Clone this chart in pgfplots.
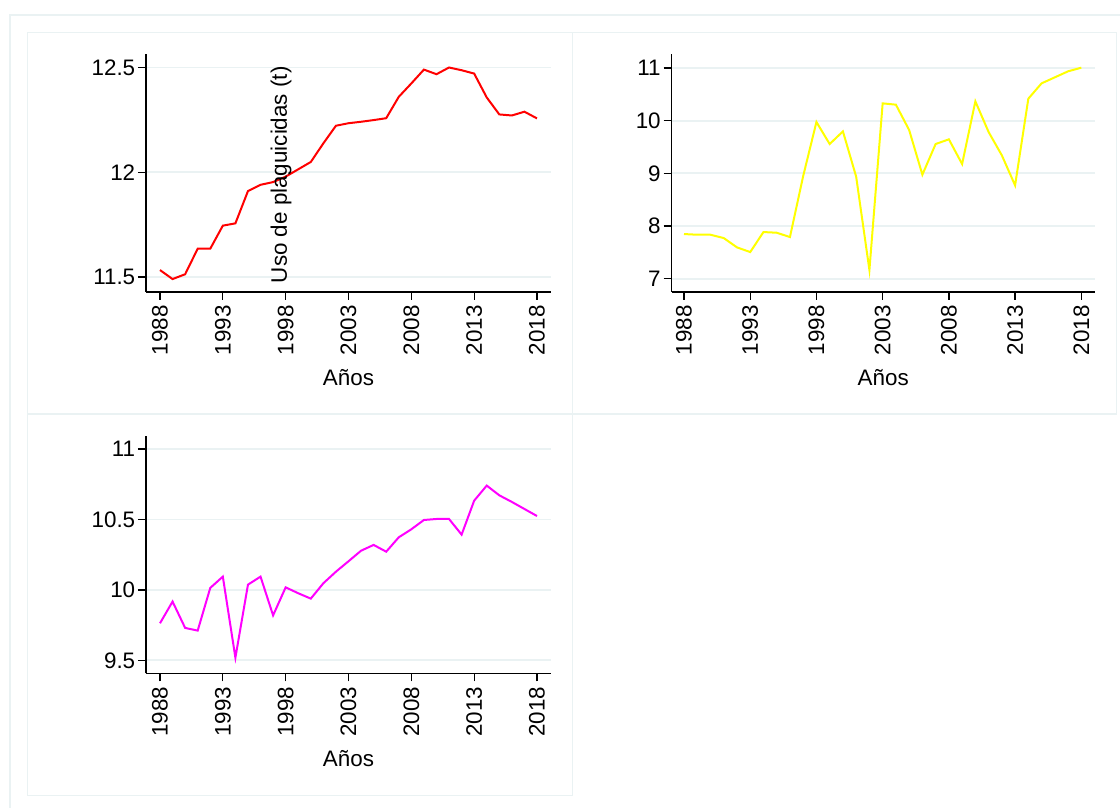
\documentclass[border=0pt]{standalone}
\usepackage{fontspec}
\setmainfont{Liberation Sans}
\usepackage{pgfplots}
\pgfplotsset{compat=1.18}
\usepackage{pgfplotstable}

\definecolor{framec}{HTML}{EAF2F3}
\definecolor{gridc}{HTML}{EAF2F3}
\definecolor{lred}{RGB}{255,0,0}
\definecolor{lyellow}{RGB}{255,255,0}
\definecolor{lmagenta}{RGB}{255,0,255}

% Pesticide use series (log scale), one table per panel
\pgfplotstableread{
year val
1988 11.533
1989 11.490
1990 11.513
1991 11.635
1992 11.635
1993 11.745
1994 11.756
1995 11.910
1996 11.940
1997 11.953
1998 11.979
1999 12.014
2000 12.049
2001 12.138
2002 12.222
2003 12.234
2004 12.241
2005 12.249
2006 12.258
2007 12.360
2008 12.424
2009 12.490
2010 12.468
2011 12.500
2012 12.487
2013 12.471
2014 12.357
2015 12.276
2016 12.271
2017 12.289
2018 12.257
}\seriesA

\pgfplotstableread{
year val
1988 7.848
1989 7.835
1990 7.835
1991 7.772
1992 7.595
1993 7.506
1994 7.886
1995 7.873
1996 7.791
1997 8.95
1998 9.975
1999 9.557
2000 9.797
2001 8.937
2002 7.165
2003 10.329
2004 10.304
2005 9.823
2006 8.975
2007 9.557
2008 9.646
2009 9.177
2010 10.367
2011 9.785
2012 9.342
2013 8.772
2014 10.418
2015 10.709
2016 10.823
2017 10.937
2018 11.006
}\seriesB

\pgfplotstableread{
year val
1988 9.763
1989 9.917
1990 9.730
1991 9.711
1992 10.014
1993 10.094
1994 9.519
1995 10.037
1996 10.094
1997 9.819
1998 10.018
1999 9.976
2000 9.938
2001 10.047
2002 10.129
2003 10.203
2004 10.278
2005 10.319
2006 10.271
2007 10.373
2008 10.430
2009 10.496
2010 10.503
2011 10.503
2012 10.392
2013 10.633
2014 10.740
2015 10.671
2016 10.624
2017 10.574
2018 10.524
}\seriesC

\pgfplotsset{
  panel/.style={
    scale only axis,
    anchor=south west,
    axis x line*=bottom,
    axis y line*=left,
    axis line style={black, line width=0.65pt},
    tick align=outside,
    major tick length=4pt,
    tick style={black, line width=0.65pt},
    ymajorgrids,
    grid style={gridc, line width=0.9pt},
    xtick={1988,1993,...,2018},
    /pgf/number format/1000 sep={},
    /pgf/number format/assume math mode=true,
    tick label style={font=\fontsize{11.2}{13}\selectfont},
    label style={font=\fontsize{11.2}{13}\selectfont},
    x tick label style={rotate=90, anchor=east, inner sep=0pt, xshift=-2.5pt},
    y tick label style={anchor=east, inner sep=0pt, xshift=-1.2pt},
    xlabel={Años},
    xlabel style={at={(axis description cs:0.5,0)}, anchor=base, yshift=-46.85pt},
    every axis plot/.append style={line width=1pt, mark=none},
  }
}

\begin{document}
\begin{tikzpicture}[x=1pt,y=1pt]
\useasboundingbox (0,0) rectangle (560,404);
% outer frame and panel frames
\draw[framec, line width=0.75pt] (5,-2) -- (5,396.5) -- (565,396.5);
\draw[framec, line width=0.75pt] (13.65,197) rectangle (286.15,387.65);
\draw[framec, line width=0.75pt] (286.15,197) rectangle (558.35,387.65);
\draw[framec, line width=0.75pt] (13.65,6.15) rectangle (286.15,197);

% top left
\begin{axis}[panel,
  at={(73pt,258pt)}, width=202.5pt, height=119pt,
  xmin=1986.886, xmax=2019.114, ymin=11.4283, ymax=12.5645,
  ytick={11.5,12,12.5},
  ylabel={Uso de plaguicidas (t)},
  ylabel style={at={(axis description cs:0.348,0.4924)}, anchor=base},
]
\addplot[lred] table[x=year,y=val] {\seriesA};
\end{axis}

% top right
\begin{axis}[panel,
  at={(335.75pt,258pt)}, width=211.75pt, height=119pt,
  xmin=1987.056, xmax=2019.034, ymin=6.748, ymax=11.266,
  ytick={7,8,9,10,11},
]
\addplot[lyellow] table[x=year,y=val] {\seriesB};
\end{axis}

% bottom left
\begin{axis}[panel,
  at={(73pt,67.35pt)}, width=202.5pt, height=118.65pt,
  xmin=1986.886, xmax=2019.114, ymin=9.408, ymax=11.092,
  ytick={9.5,10,10.5,11},
]
\addplot[lmagenta] table[x=year,y=val] {\seriesC};
\end{axis}
\end{tikzpicture}
\end{document}
